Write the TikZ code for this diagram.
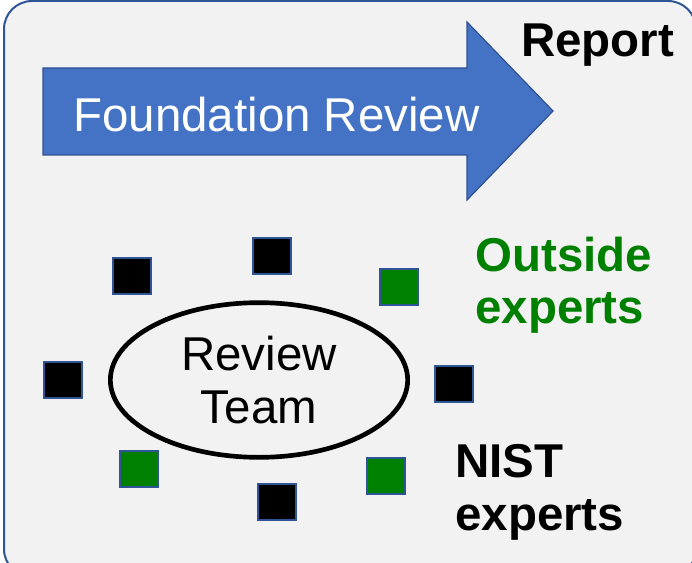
\documentclass[tikz,border=0pt]{standalone}
\usepackage{fontspec}
\setmainfont{Liberation Sans}
\usetikzlibrary{shapes.geometric}
\definecolor{framecol}{RGB}{47,85,151}
\definecolor{bgcol}{RGB}{242,242,242}
\definecolor{arrowfill}{RGB}{68,114,196}
\definecolor{arrowline}{RGB}{47,82,143}
\definecolor{expgreen}{RGB}{0,128,0}
\tikzset{
  bigfont/.style={font=\fontsize{35.6}{39.4}\selectfont},
  lbl/.style={bigfont, inner sep=0pt, anchor=base west},
  sq/.style={draw=framecol, line width=1.5pt, minimum width=28.5pt, minimum height=27pt, inner sep=0pt},
  blacksq/.style={sq, fill=black},
  greensq/.style={sq, fill=expgreen},
}
\begin{document}
\begin{tikzpicture}[x=0.75pt,y=-0.75pt]
\useasboundingbox (0,0) rectangle (692,563);
\begin{scope}
\clip (0,0) rectangle (692,563);
\draw[fill=bgcol, draw=framecol, line width=1.5pt, rounded corners=21pt] (4,1) rectangle (696,577);
\end{scope}
% arrow
\draw[fill=arrowfill, draw=arrowline, line width=0.9pt, line join=miter]
  (43,68) -- (467,68) -- (467,22) -- (553,111) -- (467,200) -- (467,155) -- (43,155) -- cycle;
\node[bigfont, text=white, inner sep=0pt, anchor=base] (found) at (276.5,132) {Foundation Review};
\node[lbl, font=\fontsize{35.6}{39.4}\selectfont\bfseries] (report) at (521,57) {Report};
% labels
\node[lbl, font=\fontsize{35.6}{39.4}\selectfont\bfseries, text=expgreen] (out1) at (475,271) {Outside};
\node[lbl, font=\fontsize{35.6}{39.4}\selectfont\bfseries, text=expgreen] (out2) at (475,323) {experts};
\node[lbl, font=\fontsize{35.6}{39.4}\selectfont\bfseries] (nist1) at (455,477) {NIST};
\node[lbl, font=\fontsize{35.6}{39.4}\selectfont\bfseries] (nist2) at (455,530) {experts};
% ellipse
\node[ellipse, draw=black, line width=3.5pt, minimum width=223pt, minimum height=116pt, inner sep=0pt, bigfont, align=center] (team) at (259,380) {Review\\Team};
% squares
\node[blacksq] (s1) at (132,276) {};
\node[blacksq] (s2) at (272,256) {};
\node[greensq] (s3) at (399,287) {};
\node[blacksq] (s4) at (63,380) {};
\node[blacksq] (s5) at (454,384) {};
\node[greensq] (s6) at (386,476) {};
\node[greensq] (s7) at (139,469) {};
\node[blacksq] (s8) at (277,502) {};
\end{tikzpicture}
\end{document}
